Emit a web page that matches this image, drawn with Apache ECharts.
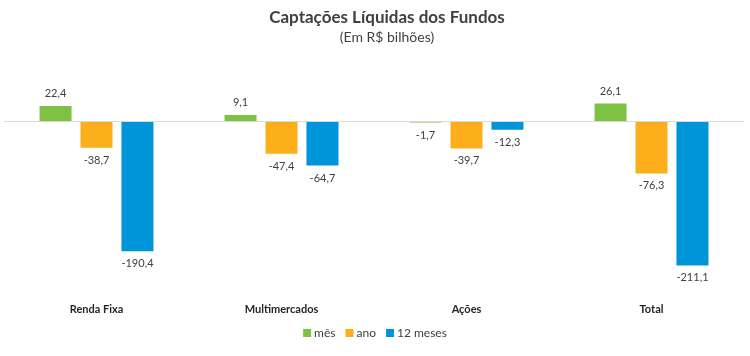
<!DOCTYPE html>
<html>
<head>
<meta charset="utf-8">
<script src="https://cdn.jsdelivr.net/npm/echarts@6/dist/echarts.min.js"></script>
<style>html,body{margin:0;padding:0;background:#fff}#c{width:750px;height:356px}</style>
</head>
<body>
<div id="c"></div>
<script>
const categories = ['Renda Fixa', 'Multimercados', 'Ações', 'Total'];
const seriesNames = ['mês', 'ano', '12 meses'];
const mes = [22.4, 9.1, -1.7, 26.1];
const ano = [-38.7, -47.4, -39.7, -76.3];
const meses12 = [-190.4, -64.7, -12.3, -211.1];
const colors = ['#7dc242', '#fdae1b', '#0095d9'];

const fontFam = 'Lato, "Open Sans", sans-serif';
function mk(vals) {
  return vals.map(v => ({
    value: v,
    label: { position: v >= 0 ? 'top' : 'bottom' }
  }));
}
const allData = [mes, ano, meses12];
const series = allData.map((vals, i) => ({
  name: seriesNames[i],
  type: 'bar',
  data: mk(vals),
  barWidth: 32,
  barGap: '28%',
  itemStyle: { color: colors[i] },
  label: {
    show: true,
    distance: 7,
    fontSize: 11,
    color: '#404040',
    fontFamily: fontFam,
    formatter: p => p.value.toFixed(1).replace('.', ',')
  },
  markLine: i === 0 ? {
    silent: true, symbol: 'none',
    label: { show: false },
    lineStyle: { color: '#d9d9d9', width: 1, type: 'solid' },
    data: [{ yAxis: 0 }]
  } : undefined
}));

const chart = echarts.init(document.getElementById('c'));
chart.setOption({
  animation: false,
  color: colors,
  title: [{
    text: 'Captações Líquidas dos Fundos',
    left: 382, top: 4, textAlign: 'center',
    textStyle: { fontSize: 17, fontWeight: 'bold', color: '#404040', fontFamily: fontFam }
  }, {
    text: '(Em R$ bilhões)',
    left: 382, top: 25, textAlign: 'center',
    textStyle: { fontSize: 14, fontWeight: 'normal', color: '#404040', fontFamily: fontFam }
  }],
  legend: {
    bottom: 12, left: 'center',
    itemWidth: 8, itemHeight: 8, itemGap: 10,
    icon: 'rect',
    textStyle: { fontSize: 12, color: '#404040', fontFamily: fontFam, padding: [0, 0, 0, -2] },
    data: seriesNames
  },
  grid: { left: 4, right: 6, top: 94, height: 198, containLabel: false },
  xAxis: {
    type: 'category',
    data: categories,
    axisLine: { show: false, onZero: false },
    axisTick: { show: false },
    axisLabel: { fontSize: 11, fontWeight: 'bold', color: '#262626', fontFamily: fontFam, margin: 12 }
  },
  yAxis: {
    type: 'value',
    min: -250, max: 40,
    show: false
  },
  series: series
});
</script>
</body>
</html>
